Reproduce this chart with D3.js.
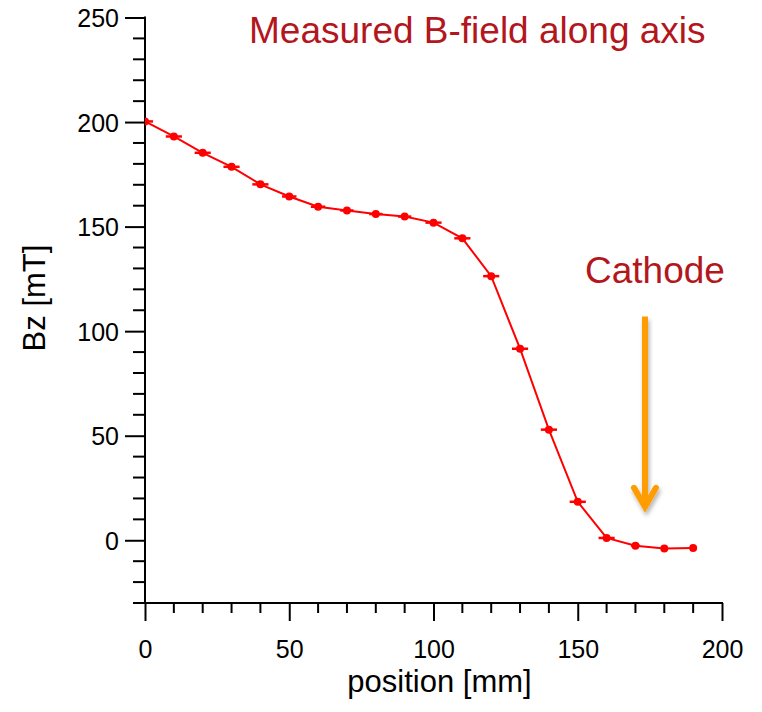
<!DOCTYPE html>
<html>
<head>
<meta charset="utf-8">
<script src="https://cdn.jsdelivr.net/npm/d3@7"></script>
<style>
  html, body { margin: 0; padding: 0; background: #fff; }
  svg { display: block; }
  text { font-family: "Liberation Sans", Arial, sans-serif; }
</style>
</head>
<body>
<svg id="chart" width="762" height="712"></svg>
<script>
// Axial field profile: probe position (mm) and measured Bz (mT)
const positions = [0, 10, 20, 30, 40, 50, 60, 70, 80, 90, 100, 110, 120, 130, 140, 150, 160, 170, 180, 190];
const bzValues = [200.3, 193.1, 185.3, 178.6, 170.2, 164.4, 159.5, 157.7, 156.0, 154.8, 151.9, 144.4, 126.3, 91.6, 52.9, 18.4, 1.1, -2.6, -3.9, -3.7];
// Position uncertainty of each reading (mm)
const positionErr = [2.8, 2.8, 2.8, 2.8, 2.8, 2.5, 2.5, 2.3, 2.3, 2.3, 2.8, 2.8, 2.8, 2.8, 2.8, 2.8, 2.8, 1.5, 0, 0];

const xTicks = [0, 50, 100, 150, 200];
const yTicks = [0, 50, 100, 150, 200, 250];
const xDomain = [0, 200];
const yDomain = [-30, 250];

const titleText = "Measured B-field along axis";
const xLabel = "position [mm]";
const yLabel = "Bz [mT]";
const markerText = "Cathode";
// Cathode marker: position (mm) and vertical extent of the arrow (mT)
const cathodeX = 173.3;
const cathodeArrow = [107, 16];

const svg = d3.select("#chart");
const plotLeft = 145, plotRight = 722, plotTop = 17.5, plotBottom = 603;

const x = d3.scaleLinear().domain(xDomain).range([plotLeft, plotRight]);
const y = d3.scaleLinear().domain(yDomain).range([plotBottom, plotTop]);

const defs = svg.append("defs");
defs.append("clipPath").attr("id", "plotClip")
  .append("rect").attr("x", plotLeft).attr("y", 0).attr("width", plotRight - plotLeft + 10).attr("height", plotBottom);
const shadow = defs.append("filter").attr("id", "arrowShadow")
  .attr("x", "-50%").attr("y", "-20%").attr("width", "200%").attr("height", "150%");
shadow.append("feDropShadow").attr("dx", 1.5).attr("dy", 3.5).attr("stdDeviation", 2)
  .attr("flood-color", "#000").attr("flood-opacity", 0.3);

// ---- axes ----
const axisColor = "#000";
const yAxis = svg.append("g").attr("transform", `translate(${plotLeft},0)`)
  .call(d3.axisLeft(y).tickValues(yTicks).tickSize(20).tickPadding(6).tickFormat(d3.format("d")));
const xAxis = svg.append("g").attr("transform", `translate(0,${plotBottom})`)
  .call(d3.axisBottom(x).tickValues(xTicks).tickSize(18).tickPadding(19).tickFormat(d3.format("d")));

[xAxis, yAxis].forEach(g => {
  g.select(".domain").remove();
  g.selectAll(".tick line").attr("stroke", axisColor).attr("stroke-width", 2);
  g.selectAll(".tick text").attr("fill", "#000").style("font-size", "25px")
    .style("font-family", '"Liberation Sans", Arial, sans-serif');
});
yAxis.selectAll(".tick text").attr("dy", "0.36em");
xAxis.selectAll(".tick text").attr("dy", "0.71em");

// minor ticks every 10 units
const yMinor = d3.range(-20, 250, 10).filter(v => v % 50 !== 0);
svg.append("g").selectAll("line").data(yMinor).join("line")
  .attr("x1", plotLeft - 12).attr("x2", plotLeft).attr("y1", d => y(d)).attr("y2", d => y(d))
  .attr("stroke", axisColor).attr("stroke-width", 2);
const xMinor = d3.range(10, 200, 10).filter(v => v % 50 !== 0);
svg.append("g").selectAll("line").data(xMinor).join("line")
  .attr("y1", plotBottom).attr("y2", plotBottom + 10).attr("x1", d => x(d)).attr("x2", d => x(d))
  .attr("stroke", axisColor).attr("stroke-width", 2);

// axis lines
svg.append("line").attr("x1", plotLeft).attr("x2", plotLeft).attr("y1", y(yDomain[1]) - 1).attr("y2", plotBottom)
  .attr("stroke", axisColor).attr("stroke-width", 2);
svg.append("line").attr("x1", plotLeft - 12).attr("x2", x(xDomain[1]) + 1).attr("y1", plotBottom).attr("y2", plotBottom)
  .attr("stroke", axisColor).attr("stroke-width", 2);

// axis titles
svg.append("text").attr("x", (plotLeft + plotRight) / 2 + 6).attr("y", 692)
  .attr("text-anchor", "middle").style("font-size", "31px").attr("fill", "#000").text(xLabel);
svg.append("text").attr("transform", `translate(45,298) rotate(-90)`)
  .attr("text-anchor", "middle").style("font-size", "31px").attr("fill", "#000").text(yLabel);

// ---- data ----
const series = positions.map((p, i) => ({ p, b: bzValues[i], e: positionErr[i] }));
const plot = svg.append("g").attr("clip-path", "url(#plotClip)");
const red = "#ff0000";

plot.append("path").datum(series)
  .attr("fill", "none").attr("stroke", red).attr("stroke-width", 2)
  .attr("d", d3.line().x(d => x(d.p)).y(d => y(d.b)));

plot.append("g").selectAll("line").data(series.filter(d => d.e > 0)).join("line")
  .attr("x1", d => x(d.p - d.e)).attr("x2", d => x(d.p + d.e))
  .attr("y1", d => y(d.b)).attr("y2", d => y(d.b))
  .attr("stroke", red).attr("stroke-width", 2.5);

plot.append("g").selectAll("circle").data(series).join("circle")
  .attr("cx", d => x(d.p)).attr("cy", d => y(d.b)).attr("r", 4).attr("fill", red);

// ---- annotations ----
const darkRed = "#b3171d";
svg.append("text").attr("x", 249).attr("y", 43).style("font-size", "37px")
  .attr("fill", darkRed).text(titleText);
svg.append("text").attr("x", 585).attr("y", 283).style("font-size", "37px")
  .attr("fill", darkRed).text(markerText);

const ax = x(cathodeX), ay0 = y(cathodeArrow[0]), ay1 = y(cathodeArrow[1]);
const arrow = svg.append("g").attr("filter", "url(#arrowShadow)")
  .attr("stroke", "#ff9c00").attr("stroke-width", 6).attr("fill", "none");
arrow.append("line").attr("x1", ax).attr("x2", ax).attr("y1", ay0).attr("y2", ay1 - 2)
  .attr("stroke-linecap", "butt");
arrow.append("path")
  .attr("d", `M${ax - 11},${ay1 - 19} L${ax},${ay1} L${ax + 11},${ay1 - 19}`)
  .attr("stroke-linecap", "round").attr("stroke-linejoin", "miter");
</script>
</body>
</html>
